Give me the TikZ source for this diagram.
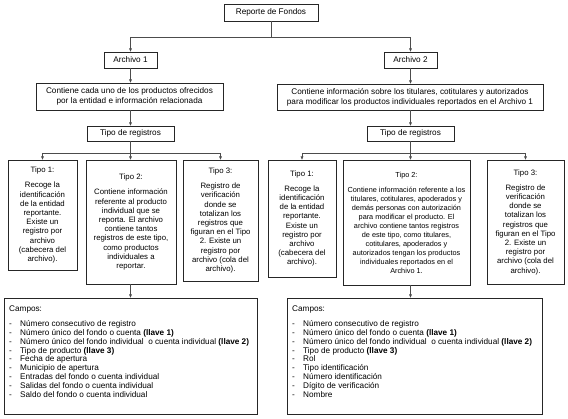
\documentclass[tikz,border=0pt]{standalone}
\usepackage{fontspec}
\setmainfont{Liberation Sans}
\usetikzlibrary{arrows.meta,calc}
\newcommand{\itm}[1]{\makebox[11pt][l]{-}#1}
\begin{document}
\begin{tikzpicture}[x=1pt,y=-1pt,
  box/.style={draw=black!85, line width=0.75pt, inner sep=1pt, outer sep=0pt, align=center, anchor=north west,
    font=\fontsize{7.8}{9.2}\selectfont},
  hbox/.style={box, font=\fontsize{8.2}{10}\selectfont},
  conn/.style={draw=black!70, line width=0.6pt},
  arr/.style={conn, -{Latex[length=3.5pt,width=3pt]}},
  camptxt/.style={anchor=north west, align=left, inner sep=0pt, font=\fontsize{8.2}{8.8}\selectfont},
]
\useasboundingbox (0,0) rectangle (568,419);
% top
\node[hbox, minimum width=94, minimum height=17] (rep) at (224,4) {Reporte de Fondos};
\node[hbox, minimum width=53, minimum height=16] (a1) at (104,52) {Archivo 1};
\node[hbox, minimum width=53, minimum height=16] (a2) at (384,52) {Archivo 2};
\node[hbox, minimum width=187, minimum height=27] (c1) at (36,83)
  {Contiene cada uno de los productos ofrecidos\\por la entidad e información relacionada};
\node[hbox, minimum width=266, minimum height=26] (c2) at (277,84)
  {Contiene información sobre los titulares, cotitulares y autorizados\\para modificar los productos individuales reportados en el Archivo 1};
\node[hbox, minimum width=87, minimum height=15] (t1) at (87,126) {Tipo de registros};
\node[hbox, minimum width=87, minimum height=15] (t2) at (367,126) {Tipo de registros};
% tipo boxes left
\node[box, minimum width=69, minimum height=110] (l1) at (8,160)
  {Tipo 1:\\[6pt]Recoge la\\identificación\\de la entidad\\reportante.\\Existe un\\registro por\\archivo\\(cabecera del\\archivo).};
\node[box, minimum width=90, minimum height=124] (l2) at (86,160)
  {Tipo 2:\\[6pt]Contiene información\\referente al producto\\individual que se\\reporta. El archivo\\contiene tantos\\registros de este tipo,\\como productos\\individuales a\\reportar.};
\node[box, minimum width=75, minimum height=121] (l3) at (183,160)
  {Tipo 3:\\[6pt]Registro de\\verificación\\donde se\\totalizan los\\registros que\\figuran en el Tipo\\2. Existe un\\registro por\\archivo (cola del\\archivo).};
% tipo boxes right
\node[box, minimum width=68, minimum height=117] (r1) at (268,160)
  {Tipo 1:\\[6pt]Recoge la\\identificación\\de la entidad\\reportante.\\Existe un\\registro por\\archivo\\(cabecera del\\archivo).};
\node[box, font=\fontsize{7.3}{9}\selectfont, minimum width=127, minimum height=125] (r2) at (343,160)
  {Tipo 2:\\[6pt]Contiene información referente a los\\titulares, cotitulares, apoderados y\\demás personas con autorización\\para modificar el producto. El\\archivo contiene tantos registros\\de este tipo, como titulares,\\cotitulares, apoderados y\\autorizados tengan los productos\\individuales reportados en el\\Archivo 1.};
\node[box, minimum width=77, minimum height=124] (r3) at (487,160)
  {Tipo 3:\\[6pt]Registro de\\verificación\\donde se\\totalizan los\\registros que\\figuran en el Tipo\\2. Existe un\\registro por\\archivo (cola del\\archivo).};
% campos
\node[box, minimum width=253, minimum height=116] (cl) at (4,298) {};
\node[box, minimum width=255, minimum height=116] (cr) at (287,298) {};
\node[camptxt] (cltxt) at ($(cl.north west)+(5,8)$)
  {Campos:\\[6pt]
   \itm{Número consecutivo de registro}\\
   \itm{Número único del fondo o cuenta \textbf{(llave 1)}}\\
   \itm{Número único del fondo individual\ \ o cuenta individual \textbf{(llave 2)}}\\
   \itm{Tipo de producto \textbf{(llave 3)}}\\
   \itm{Fecha de apertura}\\
   \itm{Municipio de apertura}\\
   \itm{Entradas del fondo o cuenta individual}\\
   \itm{Salidas del fondo o cuenta individual}\\
   \itm{Saldo del fondo o cuenta individual}};
\node[camptxt] (crtxt) at ($(cr.north west)+(5,8)$)
  {Campos:\\[6pt]
   \itm{Número consecutivo de registro}\\
   \itm{Número único del fondo o cuenta \textbf{(llave 1)}}\\
   \itm{Número único del fondo individual\ \ o cuenta individual \textbf{(llave 2)}}\\
   \itm{Tipo de producto \textbf{(llave 3)}}\\
   \itm{Rol}\\
   \itm{Tipo identificación}\\
   \itm{Número identificación}\\
   \itm{Dígito de verificación}\\
   \itm{Nombre}};
% connectors
\coordinate (j0) at (271,37);
\draw[conn] (rep.south) -- (rep.south |- j0);
\draw[arr] (rep.south |- j0) -| (a1.north);
\draw[arr] (rep.south |- j0) -| (a2.north);
\draw[arr] (a1.south) -- (a1.south |- c1.north);
\draw[arr] (a2.south) -- (a2.south |- c2.north);
\draw[arr] (a1.south |- c1.south) -- (a1.south |- t1.north);
\draw[arr] (a2.south |- c2.south) -- (a2.south |- t2.north);
\coordinate (jl) at (130.5,153);
\coordinate (jr) at (410.5,153);
\draw[conn] (t1.south) -- (t1.south |- jl);
\draw[arr] (t1.south |- jl) -| (l1.north);
\draw[arr] (t1.south |- jl) -- (t1.south |- l2.north);
\draw[arr] (t1.south |- jl) -| (l3.north);
\draw[conn] (t2.south) -- (t2.south |- jr);
\draw[arr] (t2.south |- jr) -| (r1.north);
\draw[arr] (t2.south |- jr) -- (t2.south |- r2.north);
\draw[arr] (t2.south |- jr) -| (r3.north);
\draw[arr] (t1.south |- l2.south) -- (t1.south |- cl.north);
\draw[arr] (t2.south |- r2.south) -- (t2.south |- cr.north);
\end{tikzpicture}
\end{document}
